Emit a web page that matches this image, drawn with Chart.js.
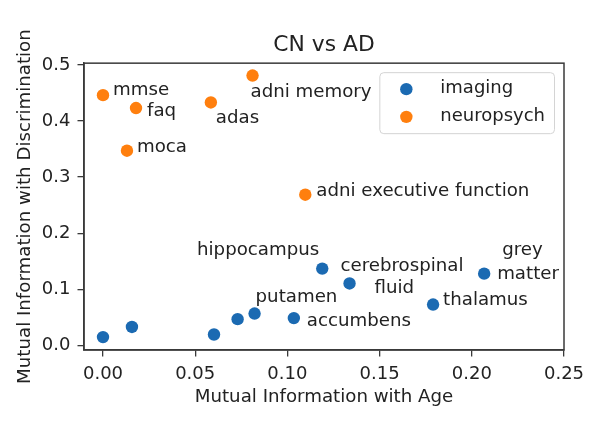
<!DOCTYPE html>
<html><head><meta charset="utf-8">
<script src="https://cdn.jsdelivr.net/npm/chart.js@4/dist/chart.umd.min.js"></script>
<style>html,body{margin:0;padding:0;background:#fff}#wrap{width:600px;height:421px}</style>
</head><body><div id="wrap"><canvas id="c" width="600" height="421"></canvas></div>
<script>
// ---- data ----
const chartTitle = 'CN vs AD';
const xAxisTitle = 'Mutual Information with Age';
const yAxisTitle = 'Mutual Information with Discrimination';
const seriesNames = ['imaging', 'neuropsych'];
const xTicks = [0.00, 0.05, 0.10, 0.15, 0.20, 0.25];
const yTicks = [0.0, 0.1, 0.2, 0.3, 0.4, 0.5];

const imagingNames = ['', '', '', '', 'putamen', 'accumbens', 'hippocampus', 'cerebrospinal\nfluid', 'thalamus', 'grey\nmatter'];
const imagingX = [0.000, 0.0157, 0.0602, 0.0730, 0.0822, 0.1035, 0.1189, 0.1337, 0.1790, 0.2067];
const imagingY = [0.015, 0.033, 0.0196, 0.047, 0.057, 0.0488, 0.137, 0.1105, 0.073, 0.128];

const neuroNames = ['mmse', 'faq', 'adas', 'adni memory', 'moca', 'adni executive function'];
const neuroX = [0.000, 0.0179, 0.0585, 0.0811, 0.0130, 0.1097];
const neuroY = [0.446, 0.423, 0.433, 0.481, 0.347, 0.2686];

// ---- style ----
const FONT = 'DejaVu Sans';
const TXT = '#222222';
const BLUE = '#1b6ab2';
const ORANGE = '#ff7f0e';
const FRAME = '#3a3a3a';
// label offsets (pixels) per line: [dx, dy(baseline), align]
const labelOffsets = {
  'mmse': [[10, 0]],
  'faq': [[11, 8]],
  'adas': [[5, 21]],
  'adni memory': [[-2, 21]],
  'moca': [[10, 1]],
  'adni executive function': [[11, 1]],
  'hippocampus': [[-3, -14, 'right']],
  'putamen': [[1, -12]],
  'accumbens': [[13, 8]],
  'cerebrospinal\nfluid': [[-9, -12], [25, 10]],
  'thalamus': [[10, 0]],
  'grey\nmatter': [[18, -19], [13, 5]]
};

const toPts = (xs, ys) => xs.map((x, i) => ({x: x, y: ys[i]}));
const namesByDataset = [imagingNames, neuroNames];

const overlay = {
  id: 'overlay',
  afterDatasetsDraw(chart) {
    const ctx = chart.ctx;
    const a = chart.chartArea;
    ctx.save();
    // frame
    ctx.strokeStyle = FRAME;
    ctx.lineWidth = 1.5;
    ctx.strokeRect(a.left, a.top, a.right - a.left, a.bottom - a.top);
    // point labels
    ctx.font = '18.2px "' + FONT + '"';
    ctx.fillStyle = TXT;
    ctx.textBaseline = 'alphabetic';
    chart.data.datasets.forEach((ds, di) => {
      const meta = chart.getDatasetMeta(di);
      const names = namesByDataset[di];
      meta.data.forEach((el, j) => {
        const name = names[j];
        if (!name) return;
        const offs = labelOffsets[name] || [[10, 0]];
        name.split('\n').forEach((line, k) => {
          const o = offs[k] || offs[0];
          ctx.textAlign = o[2] || 'left';
          ctx.fillText(line, el.x + o[0], el.y + o[1]);
        });
      });
    });
    // legend
    ctx.font = '18px "' + FONT + '"';
    const maxW = Math.max(...chart.data.datasets.map(d => ctx.measureText(d.label).width));
    const w = 61 + maxW + 9;
    const h = 61;
    const lx = a.right - 10 - w;
    const ly = a.top + 9;
    ctx.beginPath();
    ctx.roundRect(lx + 0.5, ly + 0.5, w, h, 4);
    ctx.fillStyle = 'rgba(255,255,255,0.85)';
    ctx.fill();
    ctx.strokeStyle = '#d4d4d4';
    ctx.lineWidth = 1;
    ctx.stroke();
    chart.data.datasets.forEach((d, i) => {
      const cy = ly + 17 + i * 27.7;
      ctx.beginPath();
      ctx.arc(lx + 27, cy, 6.2, 0, Math.PI * 2);
      ctx.fillStyle = d.backgroundColor;
      ctx.fill();
      ctx.fillStyle = TXT;
      ctx.textAlign = 'left';
      ctx.textBaseline = 'alphabetic';
      ctx.fillText(d.label, lx + 61, cy + 4.3);
    });
    ctx.restore();
  }
};

new Chart(document.getElementById('c'), {
  type: 'scatter',
  data: {
    datasets: [
      {label: seriesNames[0], data: toPts(imagingX, imagingY), backgroundColor: BLUE, borderColor: BLUE, pointRadius: 6.2, pointBorderWidth: 0, pointHoverRadius: 6.2},
      {label: seriesNames[1], data: toPts(neuroX, neuroY), backgroundColor: ORANGE, borderColor: ORANGE, pointRadius: 6.2, pointBorderWidth: 0, pointHoverRadius: 6.2}
    ]
  },
  options: {
    responsive: false,
    animation: false,
    devicePixelRatio: 1,
    layout: {padding: {left: 0, right: 36, top: 0, bottom: 0}},
    plugins: {
      legend: {display: false},
      tooltip: {enabled: false},
      title: {display: true, fullSize: false, text: chartTitle, color: TXT, font: {family: FONT, size: 21.8, weight: 'normal'}, padding: {top: 32, bottom: 5}}
    },
    scales: {
      x: {
        type: 'linear', min: -0.0103, max: 0.25,
        afterBuildTicks: s => { s.ticks = xTicks.map(v => ({value: v})); },
        afterFit: s => { s.height = 71; },
        ticks: {callback: v => Number(v).toFixed(2), color: TXT, font: {family: FONT, size: 18}, padding: 7, maxRotation: 0, autoSkip: false},
        grid: {drawOnChartArea: false, drawTicks: true, tickLength: 6.5, color: FRAME, lineWidth: 1.3},
        border: {display: true, color: FRAME, width: 1.5},
        title: {display: true, text: xAxisTitle, color: TXT, font: {family: FONT, size: 18.2}, padding: {top: 0, bottom: 13}}
      },
      y: {
        type: 'linear', min: -0.008, max: 0.503,
        afterBuildTicks: s => { s.ticks = yTicks.map(v => ({value: v})); },
        afterFit: s => { s.width = 84; },
        ticks: {callback: v => Number(v).toFixed(1), color: TXT, font: {family: FONT, size: 18}, padding: 7, autoSkip: false},
        grid: {drawOnChartArea: false, drawTicks: true, tickLength: 6.5, color: FRAME, lineWidth: 1.3},
        border: {display: true, color: FRAME, width: 1.5},
        title: {display: true, text: yAxisTitle, color: TXT, font: {family: FONT, size: 18.2}, padding: {top: 14, bottom: 0}}
      }
    }
  },
  plugins: [overlay]
});
</script></body></html>
